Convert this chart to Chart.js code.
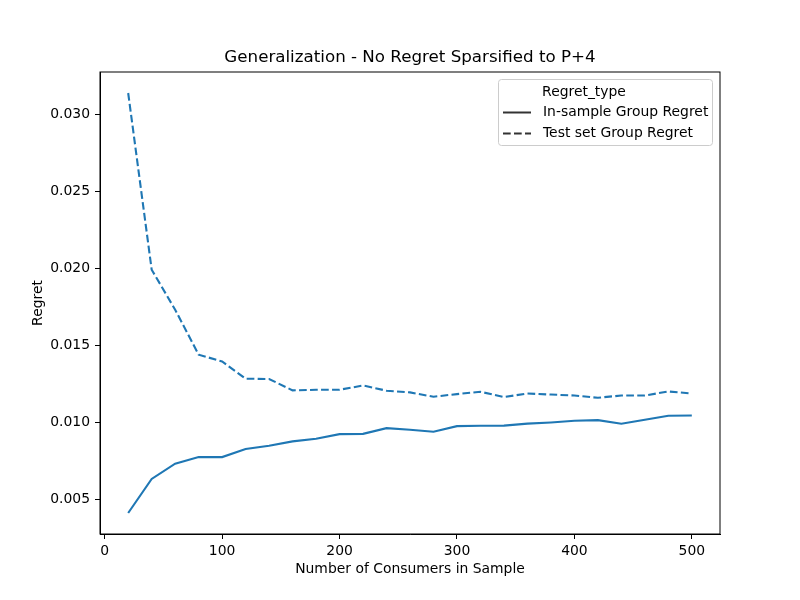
<!DOCTYPE html>
<html>
<head>
    <title>Generalization - No Regret</title>
    <script src="https://cdn.jsdelivr.net/npm/chart.js"></script>
    <style>
        body { margin: 0; background: #fff; }
        canvas { display: block; }
    </style>
</head>
<body>
    <canvas id="myChart" width="800" height="600"></canvas>

    <script>
        // sample sizes (x) and the two regret series
        const consumers = [20, 40, 60, 80, 100, 120, 140, 160, 180, 200, 220, 240, 260,
                           280, 300, 320, 340, 360, 380, 400, 420, 440, 460, 480, 500];
        const inSampleRegret = [0.00414, 0.00635, 0.00734, 0.00777, 0.00777, 0.00829, 0.00851,
                                0.00879, 0.00896, 0.00926, 0.00928, 0.00965, 0.00955, 0.00942,
                                0.00978, 0.00980, 0.00981, 0.00994, 0.01002, 0.01013, 0.01017,
                                0.00994, 0.01019, 0.01045, 0.01047];
        const testSetRegret = [0.03141, 0.01994, 0.01734, 0.01442, 0.01398, 0.01286, 0.01284,
                               0.01210, 0.01214, 0.01214, 0.01242, 0.01208, 0.01197, 0.01169,
                               0.01186, 0.01201, 0.01167, 0.01190, 0.01183, 0.01177, 0.01162,
                               0.01177, 0.01177, 0.01203, 0.01190];
        const xTicks = [0, 100, 200, 300, 400, 500];
        const yTicks = [0.005, 0.010, 0.015, 0.020, 0.025, 0.030];

        const BLUE = '#1f77b4';
        const FONT = '"DejaVu Sans", sans-serif';

        // frame, title, axis labels and matplotlib-like legend
        const decorations = {
            id: 'decorations',
            afterDraw(chart) {
                const ctx = chart.ctx;
                const a = chart.chartArea;
                ctx.save();
                ctx.strokeStyle = '#000';
                ctx.lineWidth = 1;
                ctx.strokeRect(a.left, a.top, a.right - a.left, a.bottom - a.top);

                ctx.fillStyle = '#000';
                ctx.textAlign = 'center';
                ctx.textBaseline = 'middle';
                ctx.font = '16.7px ' + FONT;
                ctx.fillText('Generalization - No Regret Sparsified to P+4', (a.left + a.right) / 2, 58);

                ctx.font = '13.9px ' + FONT;
                ctx.fillText('Number of Consumers in Sample', (a.left + a.right) / 2, 569);
                ctx.save();
                ctx.translate(38, (a.top + a.bottom) / 2);
                ctx.rotate(-Math.PI / 2);
                ctx.fillText('Regret', 0, 0);
                ctx.restore();

                // legend box
                const bx = 498.5, by = 79.5, bw = 214, bh = 66, r = 3;
                ctx.beginPath();
                ctx.moveTo(bx + r, by);
                ctx.arcTo(bx + bw, by, bx + bw, by + bh, r);
                ctx.arcTo(bx + bw, by + bh, bx, by + bh, r);
                ctx.arcTo(bx, by + bh, bx, by, r);
                ctx.arcTo(bx, by, bx + bw, by, r);
                ctx.closePath();
                ctx.fillStyle = 'rgba(255,255,255,0.8)';
                ctx.fill();
                ctx.strokeStyle = '#cccccc';
                ctx.stroke();

                ctx.fillStyle = '#000';
                ctx.font = '13.9px ' + FONT;
                ctx.textAlign = 'center';
                ctx.fillText('Regret_type', 584, 92);
                ctx.textAlign = 'left';
                ctx.fillText('In-sample Group Regret', 543, 112.5);
                ctx.fillText('Test set Group Regret', 543, 133);

                ctx.strokeStyle = '#333';
                ctx.lineWidth = 2;
                ctx.beginPath();
                ctx.moveTo(503, 112.5);
                ctx.lineTo(531, 112.5);
                ctx.stroke();
                ctx.setLineDash([7.7, 3.3]);
                ctx.beginPath();
                ctx.moveTo(503, 133.5);
                ctx.lineTo(531, 133.5);
                ctx.stroke();
                ctx.restore();
            }
        };

        const ctx = document.getElementById('myChart').getContext('2d');
        new Chart(ctx, {
            type: 'line',
            data: {
                datasets: [
                    {
                        label: 'In-sample Group Regret',
                        data: consumers.map((c, i) => ({ x: c, y: inSampleRegret[i] })),
                        borderColor: BLUE,
                        borderWidth: 2.1,
                        pointRadius: 0,
                        tension: 0,
                        fill: false
                    },
                    {
                        label: 'Test set Group Regret',
                        data: consumers.map((c, i) => ({ x: c, y: testSetRegret[i] })),
                        borderColor: BLUE,
                        borderWidth: 2.1,
                        borderDash: [7.7, 3.3],
                        pointRadius: 0,
                        tension: 0,
                        fill: false
                    }
                ]
            },
            options: {
                responsive: false,
                animation: false,
                layout: { padding: { top: 72, right: 80, left: 0, bottom: 0 } },
                plugins: {
                    legend: { display: false },
                    title: { display: false },
                    tooltip: { enabled: false }
                },
                scales: {
                    x: {
                        type: 'linear',
                        min: -4,
                        max: 524,
                        afterBuildTicks: s => { s.ticks = xTicks.map(v => ({ value: v })); },
                        afterFit: s => { s.height = 66; },
                        grid: { drawOnChartArea: false, drawTicks: true, tickLength: 5, color: '#000' },
                        border: { display: true, color: '#000' },
                        ticks: { color: '#000', padding: 4, font: { family: FONT, size: 13.9 }, maxRotation: 0 }
                    },
                    y: {
                        type: 'linear',
                        min: 0.002776,
                        max: 0.032774,
                        afterBuildTicks: s => { s.ticks = yTicks.map(v => ({ value: v })); },
                        afterFit: s => { s.width = 100; },
                        grid: { drawOnChartArea: false, drawTicks: true, tickLength: 5, color: '#000' },
                        border: { display: true, color: '#000' },
                        ticks: {
                            color: '#000',
                            padding: 5,
                            font: { family: FONT, size: 13.9 },
                            callback: v => v.toFixed(3)
                        }
                    }
                }
            },
            plugins: [decorations]
        });
    </script>
</body>
</html>
